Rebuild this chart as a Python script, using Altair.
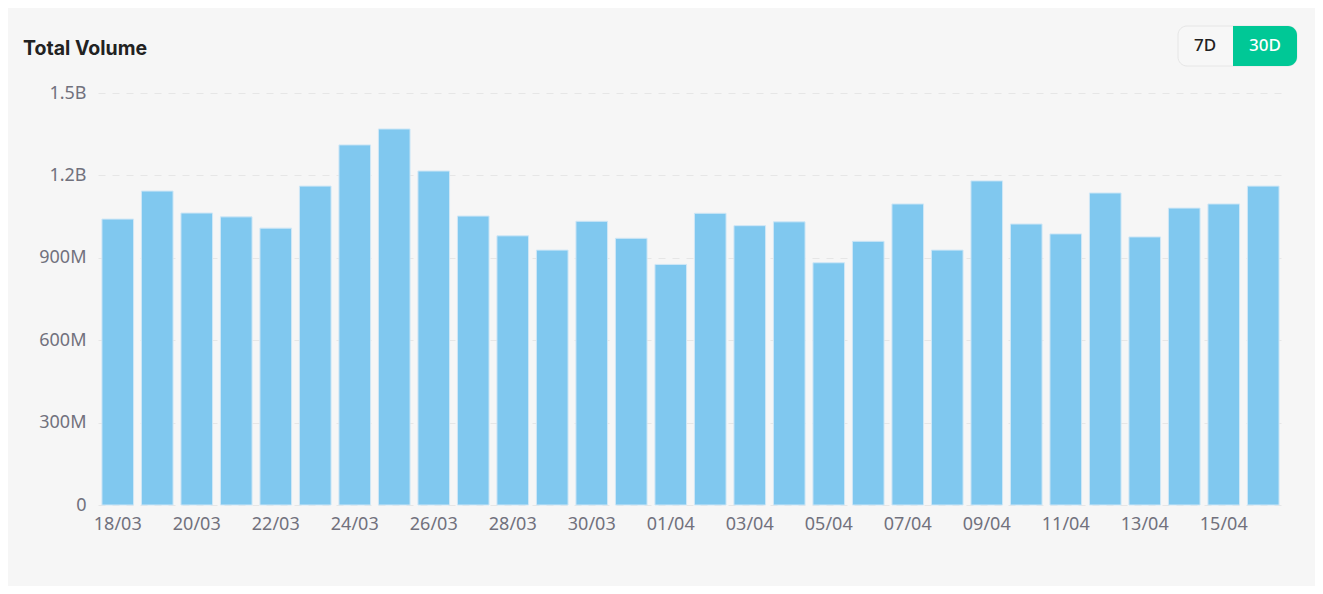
import altair as alt
import pandas as pd

dates = ["18/03", "19/03", "20/03", "21/03", "22/03", "23/03", "24/03", "25/03", "26/03", "27/03",
         "28/03", "29/03", "30/03", "31/03", "01/04", "02/04", "03/04", "04/04", "05/04", "06/04",
         "07/04", "08/04", "09/04", "10/04", "11/04", "12/04", "13/04", "14/04", "15/04", "16/04"]
volumes = [1.041e9, 1.143e9, 1.063e9, 1.049e9, 1.008e9, 1.161e9, 1.311e9, 1.369e9, 1.216e9, 1.052e9,
           0.980e9, 0.928e9, 1.033e9, 0.971e9, 0.876e9, 1.062e9, 1.017e9, 1.031e9, 0.882e9, 0.960e9,
           1.096e9, 0.928e9, 1.180e9, 1.023e9, 0.987e9, 1.136e9, 0.976e9, 1.081e9, 1.096e9, 1.161e9]
y_ticks = [0, 3e8, 6e8, 9e8, 1.2e9, 1.5e9]
x_ticks = dates[::2]

df = pd.DataFrame({"date": dates, "volume": volumes})

FONT = "Noto Sans"
LABEL_COLOR = "#71717d"
W, H = 1185, 412

bars = alt.Chart(df).mark_bar(
    color="#80c8ef", stroke="#cfe7f6", strokeWidth=1
).encode(
    x=alt.X("date:N", sort=None, title=None,
            scale=alt.Scale(paddingInner=0.2, paddingOuter=0.1),
            axis=alt.Axis(values=x_ticks, labelAngle=0, ticks=False, domain=False,
                          labelFontSize=18, labelColor=LABEL_COLOR, labelFont=FONT,
                          labelPadding=10, grid=False)),
    y=alt.Y("volume:Q", title=None,
            scale=alt.Scale(domain=[0, 1.5e9], nice=False),
            axis=alt.Axis(values=y_ticks, ticks=False, domain=False,
                          labelFontSize=18, labelColor=LABEL_COLOR, labelFont=FONT,
                          labelPadding=12, gridColor="#e6e6e6", gridDash=[7, 7],
                          labelExpr="datum.value == 0 ? '0' : (datum.value >= 1e9 ? format(datum.value/1e9, '.1f') + 'B' : format(datum.value/1e6, 'd') + 'M')")),
)

title = alt.Chart(pd.DataFrame({"t": ["Total Volume"]})).mark_text(
    align="left", baseline="alphabetic", fontSize=19.5, fontWeight="bold",
    font="Inter", color="#222222"
).encode(x=alt.value(-75), y=alt.value(-38), text="t:N")

btn_bg = alt.Chart(pd.DataFrame({"a": [0]})).mark_rect(
    fill="#f7f7f7", stroke="#e6e6e6", strokeWidth=1, cornerRadius=9
).encode(x=alt.value(1080), x2=alt.value(1199), y=alt.value(-67), y2=alt.value(-27))

btn_on = alt.Chart(pd.DataFrame({"a": [0]})).mark_rect(
    fill="#00c896", cornerRadiusTopRight=9, cornerRadiusBottomRight=9
).encode(x=alt.value(1135), x2=alt.value(1199), y=alt.value(-67), y2=alt.value(-27))

btn_7d = alt.Chart(pd.DataFrame({"t": ["7D"]})).mark_text(
    fontSize=17, font=FONT, fontWeight=500, baseline="middle", align="center", color="#222222"
).encode(x=alt.value(1107), y=alt.value(-47), text="t:N")

btn_30d = alt.Chart(pd.DataFrame({"t": ["30D"]})).mark_text(
    fontSize=17, font=FONT, fontWeight=500, baseline="middle", align="center", color="#ffffff"
).encode(x=alt.value(1167), y=alt.value(-47), text="t:N")

chart = alt.layer(bars, title, btn_bg, btn_on, btn_7d, btn_30d).properties(
    width=W, height=H,
    autosize=alt.AutoSizeParams(type="none"),
    padding={"left": 90, "top": 85, "right": 32, "bottom": 81},
    background="#f6f6f6",
).configure_view(stroke=None)

chart.save("out.html", embed_options={"renderer": "svg", "actions": False})
